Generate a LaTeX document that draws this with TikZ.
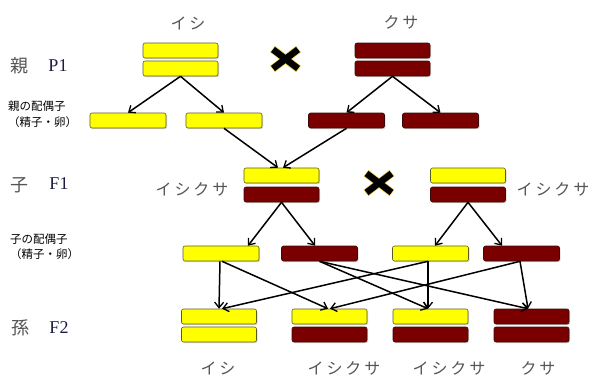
\documentclass[tikz,border=0pt]{standalone}
\usepackage{fontspec}
\setmainfont{Liberation Serif}
\newfontfamily\jpfont{Noto Sans CJK JP}
\newfontfamily\kanafont[LetterSpace=18]{Noto Sans CJK JP}
\usetikzlibrary{arrows.meta,shadows,calc}

\definecolor{barY}{HTML}{FFFF00}
\definecolor{barYline}{HTML}{5C5C1A}
\definecolor{barM}{HTML}{7A0000}
\definecolor{barMline}{HTML}{3A0A0A}
\definecolor{kanagray}{HTML}{555555}
\definecolor{gencol}{HTML}{1C1C40}
\definecolor{crossglow}{HTML}{E8C84A}

\tikzset{
  bar/.style={rectangle, rounded corners=2pt, minimum width=75pt,
    minimum height=15pt, inner sep=0pt, line width=0.6pt,
    drop shadow={shadow xshift=1pt, shadow yshift=-1.2pt, opacity=0.3}},
  ybar/.style={bar, fill=barY, draw=barYline},
  mbar/.style={bar, fill=barM, draw=barMline},
  link/.style={-{Straight Barb[length=5.5pt,width=9pt,line width=1.3pt]}, line width=1.5pt},
  kana/.style={font=\kanafont\fontsize{16}{16}\selectfont, text=kanagray, inner sep=0pt},
  gen/.style={font=\jpfont\fontsize{18}{18}\selectfont, text=kanagray, inner sep=0pt},
  genid/.style={font=\fontsize{18}{18}\selectfont, text=gencol, inner sep=0pt},
  note/.style={font=\jpfont\fontsize{11.5}{12}\selectfont, text=black, inner sep=0pt, anchor=west},
  crossmark/.style={line cap=butt},
}
\newcommand{\crossat}[1]{%
  \begin{scope}[shift={(#1)}]
    \draw[crossglow, line width=8pt, crossmark] (-13,-10) -- (13,10) (-13,10) -- (13,-10);
    \draw[black, line width=6.5pt, crossmark] (-12.5,-9.5) -- (12.5,9.5) (-12.5,9.5) -- (12.5,-9.5);
  \end{scope}}

\begin{document}
\begin{tikzpicture}[x=1pt, y=-1pt]
\useasboundingbox (0,0) rectangle (599,378);

% generation labels on the left
\node[gen]   (lp)  at (19,66)  {親};
\node[genid] (lp1) at (58,66)  {P1};
\node[note]  (lg1a) at (8,106) {親の配偶子};
\node[note]  (lg1b) at (8,122) {（精子・卵）};
\node[gen]   (lc)  at (19,185) {子};
\node[genid] (lc1) at (59,184) {F1};
\node[note]  (lg2a) at (10,239) {子の配偶子};
\node[note]  (lg2b) at (10,254) {（精子・卵）};
\node[gen]   (lg)  at (21,328) {孫};
\node[genid] (lg2) at (59,328) {F2};

% parents
\node[ybar] (pa1) at (180.5,50.5) {};
\node[ybar] (pa2) at (180.5,68.5) {};
\node[mbar] (pb1) at (392.5,50.5) {};
\node[mbar] (pb2) at (392.5,68.5) {};
\node[kana] (tpa) at (188,23) {イシ};
\node[kana] (tpb) at (401,22) {クサ};
\crossat{285.5,59}

% parent gametes
\node[ybar, minimum width=76pt] (ga) at (128,120.5) {};
\node[ybar, minimum width=76pt] (gb) at (224,120.5) {};
\node[mbar, minimum width=76pt] (gc) at (346.5,120.5) {};
\node[mbar, minimum width=76pt] (gd) at (440.5,120.5) {};
\draw[link] (pa2.south) -- (ga.north);
\draw[link] (pa2.south) -- (gb.north);
\draw[link] (pb2.south) -- (gc.north);
\draw[link] (pb2.south) -- (gd.north);

% F1
\node[ybar] (fa1) at (281.5,175.5) {};
\node[mbar] (fa2) at (281.5,194.5) {};
\node[ybar] (fb1) at (468,175.5) {};
\node[mbar] (fb2) at (468,194.5) {};
\node[kana] (tfa) at (192,189) {イシクサ};
\node[kana] (tfb) at (553,189) {イシクサ};
\crossat{379,183}
\draw[link] (gb.south) -- ($(fa1.north)+(-3.5,0)$);
\draw[link] (gc.south) -- ($(fa1.north)+(1.5,0)$);

% F1 gametes
\node[ybar, minimum width=76pt] (ha) at (221,253.5) {};
\node[mbar, minimum width=76pt] (hb) at (319.5,253.5) {};
\node[ybar, minimum width=76pt] (hc) at (430.5,253.5) {};
\node[mbar, minimum width=76pt] (hd) at (521.5,253.5) {};
\draw[link] (fa2.south) -- ($(ha.north)+(27,0)$);
\draw[link] (fa2.south) -- ($(hb.north)+(-4.5,0)$);
\draw[link] (fb2.south) -- ($(hc.north)+(4.5,0)$);
\draw[link] (fb2.south) -- ($(hd.north)+(-19.5,0)$);

% F2
\node[ybar] (ka1) at (219,316.5) {};
\node[ybar] (ka2) at (219,334.5) {};
\node[ybar] (kb1) at (329.5,316.5) {};
\node[mbar] (kb2) at (329.5,334.5) {};
\node[ybar] (kc1) at (430.5,316.5) {};
\node[mbar] (kc2) at (430.5,334.5) {};
\node[mbar] (kd1) at (531.5,316.5) {};
\node[mbar] (kd2) at (531.5,334.5) {};
\node[kana] (tka) at (218,368) {イシ};
\node[kana] (tkb) at (344,368) {イシクサ};
\node[kana] (tkc) at (449,368) {イシクサ};
\node[kana] (tkd) at (538,368) {クサ};

\draw[link] ($(ha.south)+(-1,0)$) -- (ka1.north);
\draw[link] ($(ha.south)+(1,0)$) -- ($(kb1.north)+(-1.5,0)$);
\draw[link] (hb.south) -- ($(kc1.north)+(-2.5,0)$);
\draw[link] (hb.south) -- ($(kd1.north)+(-3.5,0)$);
\draw[link] ($(hc.south)+(-2.5,0)$) -- ($(ka1.north)+(3,0)$);
\draw[link] ($(hc.south)+(-2.5,0)$) -- ($(kc1.north)+(-2.5,0)$);
\draw[link] ($(hd.south)+(-1.5,0)$) -- ($(kb1.north)+(0.5,0)$);
\draw[link] ($(hd.south)+(-1.5,0)$) -- ($(kd1.north)+(-3.5,0)$);
\end{tikzpicture}
\end{document}
